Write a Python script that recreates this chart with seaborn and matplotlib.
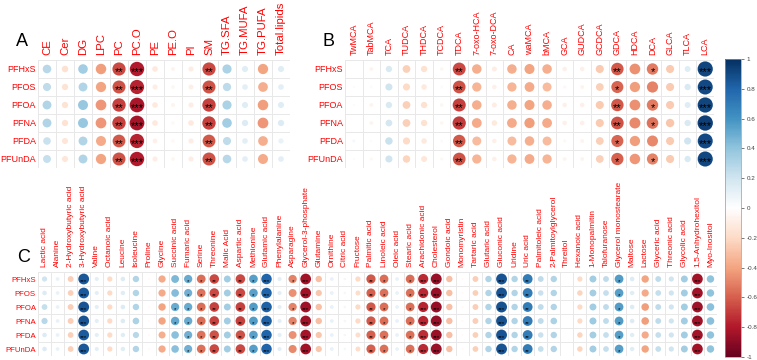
import numpy as np
import pandas as pd
import matplotlib
matplotlib.use("Agg")
import matplotlib.pyplot as plt
import seaborn as sns
from matplotlib.colors import LinearSegmentedColormap, Normalize

rows = ["PFHxS", "PFOS", "PFOA", "PFNA", "PFDA", "PFUnDA"]

a_cols = ["CE", "Cer", "DG", "LPC", "PC", "PC.O", "PE", "PE.O", "PI", "SM",
          "TG.SFA", "TG.MUFA", "TG.PUFA", "Total.lipids"]
a_vals = [
    [0.28, -0.16, 0.35, -0.42, -0.66, -0.79, -0.12, -0.06, -0.10, -0.66, 0.32, 0.14, -0.40, 0.14],
    [0.25, -0.15, 0.30, -0.40, -0.64, -0.77, -0.10, -0.05, -0.09, -0.64, 0.26, 0.12, -0.36, 0.12],
    [0.30, -0.15, 0.38, -0.44, -0.68, -0.82, -0.12, -0.06, -0.10, -0.68, 0.32, 0.14, -0.42, 0.14],
    [0.30, -0.15, 0.38, -0.44, -0.68, -0.83, -0.12, -0.04, -0.12, -0.68, 0.35, 0.15, -0.44, 0.15],
    [0.22, -0.14, 0.30, -0.38, -0.62, -0.77, -0.08, -0.04, -0.10, -0.62, 0.25, 0.12, -0.36, 0.10],
    [0.24, -0.14, 0.30, -0.40, -0.64, -0.79, -0.10, -0.05, -0.10, -0.64, 0.28, 0.12, -0.38, 0.12],
]
a_sig = [
    [0, 0, 0, 0, 2, 3, 0, 0, 0, 2, 0, 0, 0, 0],
    [0, 0, 0, 0, 2, 3, 0, 0, 0, 2, 0, 0, 0, 0],
    [0, 0, 0, 0, 2, 3, 0, 0, 0, 2, 0, 0, 0, 0],
    [0, 0, 0, 0, 2, 3, 0, 0, 0, 2, 0, 0, 0, 0],
    [0, 0, 0, 0, 2, 3, 0, 0, 0, 2, 0, 0, 0, 0],
    [0, 0, 0, 0, 2, 3, 0, 0, 0, 2, 0, 0, 0, 0],
]

b_cols = ["TwMCA", "TabMCA", "TCA", "TUDCA", "THDCA", "TCDCA", "TDCA", "7-oxo-HCA",
          "7-oxo-DCA", "CA", "waMCA", "bMCA", "GCA", "GUDCA", "GCDCA", "GDCA",
          "HDCA", "DCA", "GLCA", "TLCA", "LCA"]
b_vals = [
    [0.00, -0.06, 0.16, -0.24, -0.16, -0.05, -0.66, -0.36, -0.10, -0.36, -0.40, -0.36, -0.08, -0.08, -0.26, -0.62, -0.46, -0.52, -0.26, 0.14, 0.92],
    [0.02, -0.03, 0.20, -0.20, -0.12, -0.03, -0.64, -0.34, -0.08, -0.34, -0.38, -0.32, -0.04, -0.06, -0.24, -0.58, -0.42, -0.50, -0.26, 0.16, 0.90],
    [0.02, -0.06, 0.16, -0.24, -0.16, -0.05, -0.68, -0.36, -0.10, -0.36, -0.40, -0.36, -0.08, -0.08, -0.26, -0.62, -0.46, -0.52, -0.26, 0.14, 0.92],
    [0.00, -0.06, 0.18, -0.24, -0.16, -0.05, -0.70, -0.38, -0.12, -0.38, -0.42, -0.38, -0.08, -0.08, -0.26, -0.64, -0.48, -0.54, -0.28, 0.16, 0.94],
    [0.04, -0.02, 0.22, -0.20, -0.12, -0.03, -0.62, -0.32, -0.08, -0.32, -0.36, -0.32, -0.04, -0.06, -0.24, -0.58, -0.42, -0.48, -0.26, 0.20, 0.90],
    [0.02, -0.04, 0.20, -0.22, -0.14, -0.04, -0.64, -0.34, -0.08, -0.34, -0.38, -0.34, -0.06, -0.06, -0.24, -0.60, -0.44, -0.50, -0.26, 0.16, 0.91],
]
b_sig = [
    [0, 0, 0, 0, 0, 0, 2, 0, 0, 0, 0, 0, 0, 0, 0, 2, 0, 1, 0, 0, 3],
    [0, 0, 0, 0, 0, 0, 2, 0, 0, 0, 0, 0, 0, 0, 0, 1, 0, 0, 0, 0, 3],
    [0, 0, 0, 0, 0, 0, 2, 0, 0, 0, 0, 0, 0, 0, 0, 2, 0, 1, 0, 0, 3],
    [0, 0, 0, 0, 0, 0, 2, 0, 0, 0, 0, 0, 0, 0, 0, 2, 0, 1, 0, 0, 3],
    [0, 0, 0, 0, 0, 0, 2, 0, 0, 0, 0, 0, 0, 0, 0, 1, 0, 0, 0, 0, 3],
    [0, 0, 0, 0, 0, 0, 2, 0, 0, 0, 0, 0, 0, 0, 0, 1, 0, 1, 0, 0, 3],
]

c_cols = ["Lactic acid", "Alanine", "2-Hydroxybutyric acid", "3-Hydroxybutyric acid",
          "Valine", "Octanoic acid", "Leucine", "Isoleucine", "Proline", "Glycine",
          "Succinic acid", "Fumaric acid", "Serine", "Threonine", "Malic Acid",
          "Aspartic acid", "Methionine", "Glutamic acid", "Phenylalanine", "Asparagine",
          "Glycerol-3-phosphate", "Glutamine", "Ornithine", "Citric acid", "Fructose",
          "Palmitic acid", "Linoleic acid", "Oleic acid", "Stearic acid",
          "Arachidonic acid", "Cholesterol", "Gondoic acid", "Monomyristin",
          "Tartaric acid", "Glutaric acid", "Gluconic acid", "Uridine", "Uric acid",
          "Palmitoleic acid", "2-Palmitoylglycerol", "Threitol", "Hexanoic acid",
          "1-Monopalmitin", "Talofuranose", "Glycerol monostearate", "Maltose",
          "Lactose", "Glyceric acid", "Threonic acid", "Glycolic acid",
          "1,5-Anhydrohexitol", "Myo-Inositol"]
c_vals = [
    [0.20, 0.10, -0.25, 0.85, 0.12, -0.20, 0.15, 0.30, -0.03, -0.38, 0.45, 0.50, -0.56, -0.66, 0.35, -0.66, 0.55, 0.80, 0.12, -0.50, -0.84, -0.30, 0.10, 0.05, -0.20, -0.62, -0.56, 0.10, -0.56, -0.75, -0.86, -0.30, -0.03, -0.25, 0.30, 0.86, 0.30, 0.70, 0.25, 0.30, 0.00, -0.20, 0.35, 0.25, 0.56, 0.15, -0.40, 0.25, 0.20, 0.35, -0.84, 0.40],
    [0.15, 0.10, -0.24, 0.84, 0.12, -0.20, 0.14, 0.30, -0.03, -0.38, 0.43, 0.48, -0.54, -0.66, 0.35, -0.66, 0.54, 0.80, 0.12, -0.46, -0.84, -0.28, 0.10, 0.05, -0.18, -0.60, -0.55, 0.10, -0.55, -0.75, -0.86, -0.30, -0.03, -0.24, 0.30, 0.86, 0.30, 0.70, 0.22, 0.30, 0.00, -0.22, 0.34, 0.24, 0.55, 0.14, -0.38, 0.24, 0.20, 0.35, -0.84, 0.40],
    [0.24, 0.10, -0.25, 0.86, 0.12, -0.20, 0.15, 0.30, -0.03, -0.40, 0.50, 0.50, -0.56, -0.68, 0.35, -0.68, 0.56, 0.82, 0.12, -0.50, -0.85, -0.30, 0.10, 0.05, -0.20, -0.62, -0.56, 0.10, -0.56, -0.76, -0.87, -0.30, -0.03, -0.25, 0.30, 0.87, 0.30, 0.70, 0.25, 0.30, 0.00, -0.20, 0.35, 0.25, 0.56, 0.15, -0.42, 0.25, 0.20, 0.35, -0.85, 0.42],
    [0.28, 0.10, -0.25, 0.86, 0.12, -0.20, 0.15, 0.32, -0.03, -0.40, 0.52, 0.50, -0.56, -0.68, 0.35, -0.68, 0.56, 0.82, 0.12, -0.50, -0.85, -0.30, 0.10, 0.05, -0.20, -0.62, -0.56, 0.10, -0.56, -0.76, -0.87, -0.30, -0.03, -0.25, 0.30, 0.87, 0.30, 0.70, 0.25, 0.32, 0.00, -0.20, 0.36, 0.25, 0.56, 0.15, -0.42, 0.25, 0.20, 0.35, -0.85, 0.42],
    [0.15, 0.10, -0.24, 0.84, 0.12, -0.20, 0.14, 0.28, -0.03, -0.36, 0.42, 0.48, -0.54, -0.64, 0.35, -0.64, 0.54, 0.80, 0.12, -0.46, -0.83, -0.28, 0.10, 0.05, -0.18, -0.60, -0.55, 0.10, -0.55, -0.74, -0.86, -0.30, -0.03, -0.24, 0.30, 0.86, 0.30, 0.70, 0.22, 0.30, 0.00, -0.22, 0.34, 0.24, 0.55, 0.14, -0.38, 0.24, 0.20, 0.35, -0.84, 0.40],
    [0.15, 0.10, -0.24, 0.85, 0.12, -0.20, 0.14, 0.30, -0.03, -0.38, 0.42, 0.48, -0.55, -0.66, 0.35, -0.66, 0.55, 0.80, 0.12, -0.48, -0.84, -0.28, 0.10, 0.05, -0.18, -0.60, -0.55, 0.10, -0.55, -0.75, -0.86, -0.30, -0.03, -0.24, 0.30, 0.86, 0.30, 0.70, 0.24, 0.30, 0.00, -0.22, 0.35, 0.24, 0.55, 0.14, -0.40, 0.24, 0.20, 0.35, -0.84, 0.40],
]
c_sig = [
    [0, 0, 0, 3, 0, 0, 0, 0, 0, 0, 0, 1, 1, 2, 0, 2, 1, 3, 0, 1, 3, 0, 0, 0, 0, 2, 1, 0, 1, 3, 3, 0, 0, 0, 0, 3, 0, 2, 0, 0, 0, 0, 0, 0, 1, 0, 0, 0, 0, 0, 3, 0],
    [0, 0, 0, 3, 0, 0, 0, 0, 0, 0, 0, 1, 1, 2, 0, 2, 1, 3, 0, 0, 3, 0, 0, 0, 0, 2, 1, 0, 1, 3, 3, 0, 0, 0, 0, 3, 0, 2, 0, 0, 0, 0, 0, 0, 1, 0, 0, 0, 0, 0, 3, 0],
    [0, 0, 0, 3, 0, 0, 0, 0, 0, 0, 1, 1, 1, 2, 0, 2, 1, 3, 0, 1, 3, 0, 0, 0, 0, 2, 1, 0, 1, 3, 3, 0, 0, 0, 0, 3, 0, 2, 0, 0, 0, 0, 0, 0, 1, 0, 0, 0, 0, 0, 3, 0],
    [0, 0, 0, 3, 0, 0, 0, 0, 0, 0, 1, 1, 1, 2, 0, 2, 1, 3, 0, 1, 3, 0, 0, 0, 0, 2, 1, 0, 1, 3, 3, 0, 0, 0, 0, 3, 0, 2, 0, 0, 0, 0, 0, 0, 1, 0, 0, 0, 0, 0, 3, 0],
    [0, 0, 0, 3, 0, 0, 0, 0, 0, 0, 0, 1, 1, 2, 0, 2, 1, 3, 0, 0, 3, 0, 0, 0, 0, 2, 1, 0, 1, 3, 3, 0, 0, 0, 0, 3, 0, 2, 0, 0, 0, 0, 0, 0, 1, 0, 0, 0, 0, 0, 3, 0],
    [0, 0, 0, 3, 0, 0, 0, 0, 0, 0, 0, 1, 1, 2, 0, 2, 1, 3, 0, 0, 3, 0, 0, 0, 0, 2, 1, 0, 1, 3, 3, 0, 0, 0, 0, 3, 0, 2, 0, 0, 0, 0, 0, 0, 1, 0, 0, 0, 0, 0, 3, 0],
]
cbar_ticks = [-1, -0.8, -0.6, -0.4, -0.2, 0, 0.2, 0.4, 0.6, 0.8, 1]

cmap = LinearSegmentedColormap.from_list(
    "corr", ["#67001F", "#B2182B", "#D6604D", "#F4A582", "#FDDBC7", "#FFFFFF",
             "#D1E5F0", "#92C5DE", "#4393C3", "#2166AC", "#053061"])

sns.set_theme(style="white")
plt.rcParams["font.family"] = ["Liberation Sans", "DejaVu Sans"]

W, H = 757, 360
fig = plt.figure(figsize=(W / 100, H / 100), dpi=100)


def px_axes(x0, y0, x1, y1):
    return fig.add_axes([x0 / W, 1 - y1 / H, (x1 - x0) / W, (y1 - y0) / H])


def panel(ax, cols, vals, sig, cell_px, colfs, rowfs, starfs):
    n = len(cols)
    recs = []
    for i, r in enumerate(rows):
        for j, c in enumerate(cols):
            v = vals[i][j]
            recs.append(dict(x=j, y=i, v=v, a=abs(v), s="*" * sig[i][j]))
    df = pd.DataFrame(recs)
    smax = (0.9 * cell_px * 72 / 100) ** 2
    for k in range(n + 1):
        ax.axvline(k - 0.5, color="#e8e8e8", lw=0.7, zorder=0)
    for k in range(len(rows) + 1):
        ax.axhline(k - 0.5, color="#e8e8e8", lw=0.7, zorder=0)
    sns.scatterplot(data=df, x="x", y="y", hue="v", size="a", palette=cmap,
                    hue_norm=(-1, 1), sizes=(0, smax), size_norm=(0, 1),
                    legend=False, linewidth=0, ax=ax, zorder=2)
    for _, rec in df.iterrows():
        if rec.s:
            ax.text(rec.x, rec.y + 0.18, rec.s, ha="center", va="center",
                    fontsize=starfs, color="black", zorder=3)
    ax.set_xlim(-0.5, n - 0.5)
    ax.set_ylim(len(rows) - 0.5, -0.5)
    ax.set_xticks(range(n))
    ax.set_xticklabels(cols, rotation=90, color="red", fontsize=colfs)
    ax.set_yticks(range(len(rows)))
    ax.set_yticklabels(rows, color="red", fontsize=rowfs)
    ax.xaxis.set_ticks_position("top")
    ax.tick_params(axis="x", length=0, pad=3.5, top=True, bottom=False,
                   labeltop=True, labelbottom=False)
    ax.tick_params(axis="y", length=0, pad=1.5)
    ax.set_xlabel("")
    ax.set_ylabel("")
    for sp in ax.spines.values():
        sp.set_visible(False)


axA = px_axes(38, 60, 290, 168)
panel(axA, a_cols, a_vals, a_sig, 18, 8.2, 6.5, 8)
axB = px_axes(345, 60, 714, 168)
panel(axB, b_cols, b_vals, b_sig, 17.6, 6.5, 6.5, 8)
axC = px_axes(38, 272, 717, 356)
panel(axC, c_cols, c_vals, c_sig, 13.0, 6.0, 5.6, 4.5)

fig.text(22 / W, 1 - 42 / H, "A", fontsize=13, ha="center", va="center", color="black")
fig.text(328 / W, 1 - 42 / H, "B", fontsize=13, ha="center", va="center", color="black")
fig.text(24 / W, 1 - 258 / H, "C", fontsize=13, ha="center", va="center", color="black")

cax = px_axes(725, 59, 741, 357)
cb = matplotlib.colorbar.ColorbarBase(cax, cmap=cmap, norm=Normalize(-1, 1),
                                      ticks=cbar_ticks)
cb.ax.set_yticklabels([f"{t:g}" for t in cbar_ticks])
cb.ax.tick_params(labelsize=4.5, colors="#444444", length=2, width=0.5, pad=2)
cb.outline.set_edgecolor("#999999")
cb.outline.set_linewidth(0.5)

fig.savefig("out.png", dpi=100)
